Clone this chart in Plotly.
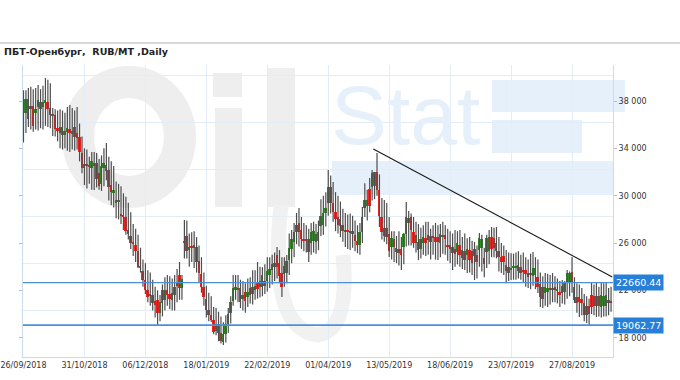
import plotly.graph_objects as go

# ---------------- data ----------------
tick_dates = ["26/09/2018", "31/10/2018", "06/12/2018", "18/01/2019", "22/02/2019",
              "01/04/2019", "13/05/2019", "18/06/2019", "23/07/2019", "27/08/2019"]
tick_pos = [0, 25, 50, 75, 100, 125, 150, 175, 200, 225]

opens = [
    36100, 37000, 38200, 37300, 37600, 37000, 37500, 37900, 37500, 37800,
    37900, 37400, 36900, 36800, 35700, 35300, 35800, 35100, 35400, 35600,
    35500, 35800, 35300, 35000, 33600, 32300, 32700, 32600, 32300, 32500,
    32800, 31900, 31000, 32300, 32600, 32200, 30900, 30200, 29400, 29600,
    28400, 28300, 28200, 27100, 26600, 26100, 25800, 25300, 24100, 23600,
    22900, 22000, 21700, 21600, 21100, 21200, 20100, 20900, 21200, 22000,
    21700, 21200, 21600, 22400, 23300, 22200, 26000, 26600, 25400, 25700,
    25600, 25700, 24500, 23400, 22300, 21300, 20300, 19900, 19500, 18600,
    19200, 18400, 17600, 18300, 19200, 20100, 21100, 22000, 22200, 22200,
    21300, 21900, 21400, 22200, 21700, 22000, 22600, 22300, 23300, 22800,
    22800, 23300, 23700, 24000, 25000, 24300, 23500, 23400, 23500, 24600,
    25500, 26100, 27500, 27700, 27100, 26300, 26300, 26300, 26000, 26200,
    26100, 26200, 27400, 27500, 28500, 29400, 30700, 29400, 28600, 28200,
    28000, 27500, 27000, 27100, 26900, 27000, 26700, 26200, 25800, 26900,
    29000, 29100, 30600, 30700, 30800, 32000, 30500, 28200, 27300, 27300,
    26800, 25700, 26300, 25600, 25500, 25500, 25700, 26800, 27700, 28200,
    26900, 26000, 26100, 25500, 26000, 26400, 26700, 26100, 26600, 26500,
    26500, 26000, 26500, 26700, 25830, 25800, 25660, 25500, 25200, 25800,
    25400, 25300, 25000, 25400, 25300, 24900, 25000, 25400, 25600, 24700,
    25200, 25300, 26500, 26400, 26000, 25300, 24800, 24900, 24140, 24000,
    23700, 23900, 23900, 24140, 24000, 23700, 23700, 23500, 23300, 23200,
    23300, 23100, 22500, 22300, 21800, 21900, 22200, 22100, 22300, 22000,
    21860, 21800, 21900, 22600, 22700, 23540, 22280, 21440, 21400, 21300,
    20930, 19900, 20700, 21600, 21500, 20700, 21500, 20600, 20700, 20700,
    21200, 21100]

highs = [
    38900, 38900, 39100, 39200, 39000, 39100, 39350, 39000, 39300, 39950,
    39800, 39500, 37400, 37300, 37200, 37300, 37200, 37000, 37500, 37670,
    37400, 37200, 37500, 36100, 35000, 34000, 33900, 33300, 33700, 33700,
    33600, 33100, 33400, 34000, 34460, 33300, 32900, 32500, 31200, 31000,
    30800, 30200, 29900, 29400, 28600, 27600, 27200, 26700, 25600, 24600,
    24300, 23700, 23500, 22900, 22300, 22000, 21600, 22500, 23100, 23300,
    23200, 23000, 23300, 23800, 24400, 23300, 27950, 27900, 26800, 26900,
    27000, 26500, 25800, 24800, 23500, 22400, 21800, 21500, 20600, 20500,
    20200, 19800, 19300, 19900, 20500, 21500, 23300, 23300, 23300, 22900,
    22800, 22600, 23000, 23100, 23700, 23700, 24400, 24000, 23960, 24200,
    24800, 24800, 25000, 25200, 25660, 25400, 24800, 24800, 24990, 26800,
    27100, 27700, 28540, 28960, 28200, 27700, 27500, 27200, 27700, 27800,
    27600, 27900, 29700, 30000, 30300, 32160, 31700, 31160, 30300, 30000,
    29500, 28900, 28540, 28400, 28500, 28300, 27900, 27500, 27700, 29050,
    31060, 30500, 31500, 32160, 32000, 33600, 31800, 29800, 29640, 29380,
    28200, 27000, 27000, 26600, 27000, 26500, 26850, 29470, 28700, 28500,
    28200, 27800, 27600, 27300, 27500, 27800, 27800, 27200, 27500, 27700,
    27500, 27600, 27800, 27500, 27200, 27000, 26800, 27100, 27000, 27100,
    26500, 26800, 26400, 26500, 26200, 26100, 25800, 26850, 26700, 25600,
    26700, 27100, 27350, 27300, 27350, 26500, 26000, 25800, 25400, 25200,
    25140, 25100, 25200, 25300, 25000, 25200, 24800, 24600, 25100, 25240,
    24800, 24600, 23500, 23200, 23460, 23400, 23300, 23460, 23200, 23000,
    22800, 22870, 22800, 23720, 23600, 24820, 23100, 22600, 22500, 22200,
    21700, 21500, 21300, 22620, 22500, 22700, 22300, 22700, 22600, 22700,
    22200, 22300]

lows = [
    34500, 35300, 35800, 35600, 35400, 35600, 35500, 35700, 35600, 35900,
    35800, 35700, 35050, 35000, 34600, 34000, 33900, 34000, 33800, 33700,
    33900, 33800, 33900, 32900, 31900, 30900, 30600, 31000, 30500, 30480,
    30700, 30500, 30400, 30800, 31300, 29600, 29200, 29000, 28100, 28000,
    27600, 27100, 26700, 26300, 25500, 24900, 24400, 23900, 23500, 22300,
    21700, 21000, 20700, 20300, 19700, 19070, 19400, 19800, 20300, 20700,
    20400, 20300, 20300, 21000, 21200, 21200, 24700, 24700, 24000, 24400,
    23900, 23500, 22700, 21800, 20700, 19700, 19400, 19330, 18300, 18200,
    17700, 17500, 17380, 17600, 18400, 19200, 20700, 21200, 21000, 20500,
    20300, 20100, 20600, 20900, 20800, 21200, 21300, 21400, 21500, 21700,
    21900, 22200, 22500, 22800, 23000, 22600, 21440, 22300, 22600, 23300,
    24300, 24800, 25900, 25700, 25500, 25300, 25200, 24400, 25000, 25200,
    25100, 25400, 26600, 26700, 27400, 28300, 28500, 27800, 27000, 26800,
    26500, 26100, 25660, 25500, 25400, 25600, 25300, 25140, 25000, 26000,
    28200, 27900, 28600, 29600, 29700, 30000, 27350, 26300, 26100, 25900,
    24820, 24600, 24400, 24300, 24100, 23720, 24200, 25700, 25800, 25800,
    25600, 25200, 24560, 24700, 25000, 24900, 25000, 24600, 25000, 24600,
    24560, 24800, 25100, 25000, 24500, 24300, 23720, 24000, 24200, 24000,
    23800, 23720, 23460, 23500, 23300, 22870, 23000, 24000, 23600, 23100,
    23900, 24200, 24800, 24800, 24700, 23600, 23460, 23300, 22600, 22800,
    22870, 22900, 22900, 23000, 22900, 22700, 22300, 22200, 22100, 22400,
    22100, 21780, 20600, 20510, 20700, 20600, 20800, 21000, 21000, 20900,
    20600, 20900, 20800, 21300, 21500, 21800, 20930, 20100, 19750, 19900,
    19400, 19240, 19070, 20000, 19900, 19750, 19800, 19700, 19800, 19800,
    19900, 20200]

closes = [
    36800, 38200, 36500, 37600, 35900, 37300, 38100, 37300, 37900, 38100,
    37300, 36800, 36700, 35600, 35500, 35800, 35100, 35500, 35700, 35300,
    35200, 35000, 34900, 33700, 32300, 32700, 32500, 32400, 32900, 32800,
    31400, 30800, 32500, 32800, 32100, 30700, 30300, 30500, 29600, 29500,
    28300, 28200, 27000, 26800, 26000, 25900, 25300, 24000, 23900, 22900,
    22000, 21400, 21600, 20900, 20800, 20100, 21000, 22000, 22000, 21600,
    21300, 21800, 22300, 22700, 22200, 23000, 26200, 25300, 25700, 25600,
    25800, 24400, 23500, 22300, 21400, 20300, 19900, 19500, 18500, 19200,
    18400, 17700, 18300, 19200, 20000, 21000, 22200, 22300, 22100, 21000,
    21600, 21100, 21900, 21600, 22300, 22400, 22100, 22800, 22300, 22400,
    23600, 23800, 24200, 24300, 24000, 23200, 22300, 24100, 24500, 25600,
    26300, 26900, 26900, 26900, 26300, 26200, 26250, 25200, 26900, 27000,
    26800, 26900, 28300, 28500, 29000, 30700, 29400, 28600, 28000, 27500,
    27400, 27000, 27100, 26900, 27000, 26800, 26200, 25800, 26900, 28200,
    29600, 29600, 29100, 31900, 32000, 30500, 28300, 26900, 26600, 26500,
    25300, 26400, 25700, 25200, 25150, 25000, 26800, 28200, 28100, 27100,
    26000, 26700, 25400, 26300, 26500, 26000, 26260, 26600, 26400, 26100,
    26100, 26800, 26700, 26300, 25700, 25500, 25140, 25100, 26000, 25000,
    24700, 24600, 25500, 24600, 24300, 25500, 24400, 26400, 26300, 24200,
    26400, 26500, 25500, 25600, 25300, 24800, 24400, 24400, 23600, 23500,
    23900, 24000, 24000, 23600, 23500, 23600, 23400, 23150, 23500, 23900,
    23900, 22300, 21400, 21300, 22300, 22200, 22100, 22200, 22000, 22100,
    21600, 22400, 22600, 23500, 23500, 22620, 21200, 20930, 21000, 20900,
    19900, 20700, 20000, 20600, 20700, 21500, 20700, 21600, 21500, 21600,
    20930, 20950]

level_values = [22660.44, 19062.77]
level_labels = ["22660.44", "19062.77"]
trend_x = [143.5, 241.5]
trend_y = [33950, 23130]

y_ticks = [18000, 22000, 26000, 30000, 34000, 38000]
y_ticktext = ["18 000", "22 000", "26 000", "30 000", "34 000", "38 000"]
y_grid = [20340, 24310, 28280, 32250, 36220, 40190]

assert len(opens) == len(highs) == len(lows) == len(closes)
n = len(closes)
idx = list(range(n))

# ---------------- layout geometry ----------------
W, H = 680, 380
ML, MR, MT, MB = 23, 67, 65, 23
PW, PH = W - ML - MR, H - MT - MB


def px(x):
    return (x - ML) / PW


def py(y):
    return 1 - (y - MT) / PH


fig = go.Figure()

# wicks
wx, wy = [], []
for i in idx:
    wx += [i, i, None]
    wy += [lows[i], highs[i], None]
fig.add_trace(go.Scatter(x=wx, y=wy, mode="lines",
                         line=dict(color="#4d4d4d", width=1.2),
                         hoverinfo="skip", showlegend=False))

# bodies
base = [min(o, c) for o, c in zip(opens, closes)]
hgt = [max(abs(c - o), 90) for o, c in zip(opens, closes)]
cols = ["#2f8a1f" if c >= o else "#f5221e" for o, c in zip(opens, closes)]
fig.add_trace(go.Bar(x=idx, y=hgt, base=base, marker=dict(color=cols, line=dict(width=0)),
                     width=0.8, showlegend=False, hoverinfo="skip"))

# trend line
fig.add_trace(go.Scatter(x=trend_x, y=trend_y, mode="lines",
                         line=dict(color="#1a1a1a", width=1.1),
                         hoverinfo="skip", showlegend=False))

shapes = []
# watermark (Oil Stat logo)
gray = "#eeeeee"
lblue = "#e6f0fa"
shapes.append(dict(type="circle", xref="paper", yref="paper", layer="below",
                   x0=px(78), x1=px(180), y0=py(192), y1=py(82),
                   line=dict(color=gray, width=32)))
shapes.append(dict(type="rect", xref="paper", yref="paper", layer="below",
                   x0=px(213), x1=px(242), y0=py(97), y1=py(73),
                   fillcolor=gray, line=dict(width=0)))
shapes.append(dict(type="rect", xref="paper", yref="paper", layer="below",
                   x0=px(215), x1=px(242), y0=py(207), y1=py(108),
                   fillcolor=gray, line=dict(width=0)))
shapes.append(dict(type="rect", xref="paper", yref="paper", layer="below",
                   x0=px(268), x1=px(295), y0=py(207), y1=py(68),
                   fillcolor=gray, line=dict(width=0)))
# swoosh under the "l"
sw = [(281, 205), (268, 330), (318, 335), (350, 330), (343, 255)]
sp = [(px(a), py(b)) for a, b in sw]
path = "M {:.4f},{:.4f} Q {:.4f},{:.4f} {:.4f},{:.4f} Q {:.4f},{:.4f} {:.4f},{:.4f}".format(
    sp[0][0], sp[0][1], sp[1][0], sp[1][1], sp[2][0], sp[2][1], sp[3][0], sp[3][1], sp[4][0], sp[4][1])
shapes.append(dict(type="path", xref="paper", yref="paper", layer="below", path=path,
                   line=dict(color="#f1f1f1", width=15)))
for (x0, x1, y0, y1) in [(492, 625, 80, 112), (492, 582, 120, 153), (332, 614, 161, 195)]:
    shapes.append(dict(type="rect", xref="paper", yref="paper", layer="below",
                       x0=px(x0), x1=px(x1), y0=py(y1), y1=py(y0),
                       fillcolor=lblue, line=dict(width=0)))

# level lines
for k, v in enumerate(level_values):
    shapes.append(dict(type="line", xref="paper", yref="y", x0=0, x1=1, y0=v, y1=v,
                       line=dict(color="#4a90dc", width=1.2 if k == 0 else 1.6)))

# top separator
shapes.append(dict(type="line", xref="paper", yref="paper", x0=px(0), x1=px(W),
                   y0=py(43), y1=py(43), line=dict(color="#cccccc", width=1.5)))

annotations = []
annotations.append(dict(text="Stat", xref="paper", yref="paper", x=px(329), y=py(115),
                        xanchor="left", yanchor="middle", showarrow=False,
                        font=dict(family="Liberation Sans", size=84, color=lblue)))
annotations.append(dict(text="<b>ПБТ-Оренбург,  RUB/MT ,Daily</b>", xref="paper", yref="paper",
                        x=px(2), y=py(52), xanchor="left", yanchor="middle", showarrow=False,
                        font=dict(family="DejaVu Sans", size=9.5, color="#222222")))
for v, t in zip(level_values, level_labels):
    annotations.append(dict(text=t, xref="paper", yref="y", x=1, y=v,
                            xanchor="left", yanchor="middle", showarrow=False,
                            bgcolor="#2680d9", borderpad=2,
                            font=dict(family="DejaVu Sans", size=9.5, color="white")))

axis_line = "#c9dcee"
grid_col = "#e3edf7"
fig.update_layout(
    width=W, height=H,
    margin=dict(l=ML, r=MR, t=MT, b=MB, autoexpand=False),
    paper_bgcolor="white", plot_bgcolor="rgba(0,0,0,0)",
    showlegend=False, bargap=0,
    shapes=shapes, annotations=annotations,
    xaxis=dict(range=[-0.2, 241.8], tickmode="array", tickvals=tick_pos, ticktext=tick_dates,
               showgrid=True, gridcolor=grid_col, gridwidth=1, zeroline=False, automargin=False,
               showline=True, linecolor=axis_line, linewidth=1, ticks="",
               tickfont=dict(family="DejaVu Sans", size=8, color="#333333")),
    yaxis=dict(range=[16369, 41043], side="right", tickmode="array", tickvals=y_ticks,
               ticktext=y_ticktext, showgrid=False, zeroline=False, automargin=False,
               showline=True, linecolor=axis_line, linewidth=1, mirror="ticks",
               ticks="outside", ticklen=3, tickcolor="#bbbbbb",
               tickfont=dict(family="DejaVu Sans", size=8, color="#333333"),
               minor=dict(tickmode="array", tickvals=y_grid, showgrid=True,
                          gridcolor=grid_col, gridwidth=1, ticks="")),
)

fig.write_html("out.html", config={"displayModeBar": False},
               post_script="document.body.style.margin='0';")
